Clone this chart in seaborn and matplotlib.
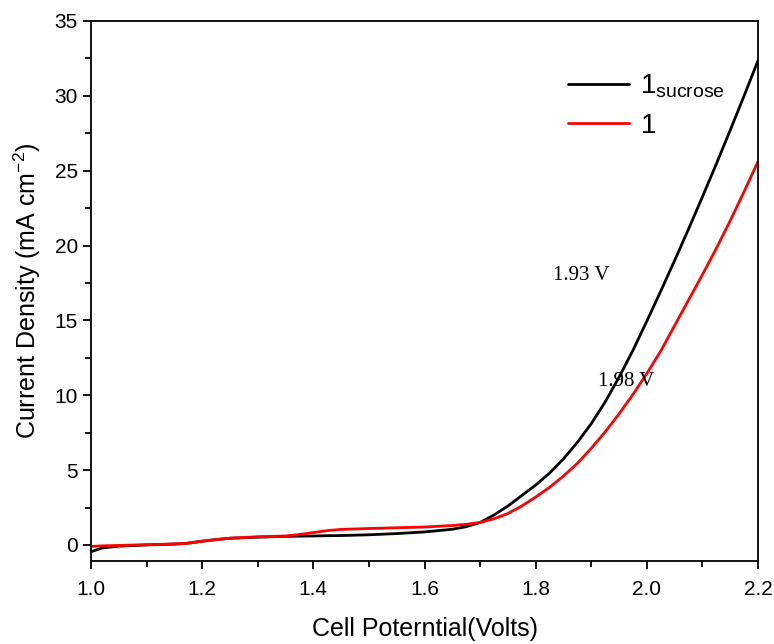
import pandas as pd
import seaborn as sns
import numpy as np
import matplotlib.pyplot as plt
from matplotlib.ticker import MultipleLocator

potential = [1.00, 1.02, 1.05, 1.10, 1.15, 1.17, 1.20, 1.225, 1.25, 1.30, 1.35, 1.375, 1.40,
             1.425, 1.45, 1.50, 1.55, 1.60, 1.65, 1.675, 1.70, 1.725, 1.75, 1.775, 1.80,
             1.825, 1.85, 1.875, 1.90, 1.925, 1.95, 1.975, 2.00, 2.025, 2.05, 2.075, 2.10,
             2.125, 2.15, 2.175, 2.20]
j_sucrose = [-0.45, -0.2, -0.08, 0.0, 0.06, 0.1, 0.25, 0.36, 0.45, 0.52, 0.57, 0.59, 0.6,
             0.62, 0.63, 0.68, 0.76, 0.87, 1.05, 1.22, 1.5, 2.0, 2.6, 3.3, 4.0,
             4.8, 5.75, 6.85, 8.1, 9.55, 11.2, 13.0, 14.95, 16.95, 19.0, 21.1, 23.25,
             25.45, 27.7, 30.0, 32.35]
j_plain = [-0.1, -0.06, -0.03, 0.02, 0.07, 0.1, 0.25, 0.36, 0.45, 0.55, 0.6, 0.7, 0.83,
           0.96, 1.04, 1.1, 1.15, 1.2, 1.3, 1.38, 1.5, 1.75, 2.1, 2.6, 3.2,
           3.85, 4.6, 5.45, 6.45, 7.55, 8.75, 10.05, 11.45, 12.95, 14.65, 16.35, 18.05,
           19.8, 21.65, 23.6, 25.6]
labels = ['1$_{\\mathregular{sucrose}}$', '1']
colors = ['black', 'red']

df = pd.concat([
    pd.DataFrame({'E': potential, 'J': j_sucrose, 'sample': labels[0]}),
    pd.DataFrame({'E': potential, 'J': j_plain, 'sample': labels[1]}),
])

sns.set_style('ticks')
plt.rcParams['font.family'] = ['Liberation Sans', 'DejaVu Sans']
plt.rcParams['mathtext.default'] = 'regular'
plt.rcParams['text.color'] = 'black'
plt.rcParams['axes.labelcolor'] = 'black'
plt.rcParams['xtick.color'] = 'black'
plt.rcParams['ytick.color'] = 'black'

fig = plt.figure(figsize=(7.74, 6.44), dpi=100)
ax = fig.add_axes([0.1176, 0.1289, 0.8617, 0.8385])

sns.lineplot(data=df, x='E', y='J', hue='sample', palette=colors, linewidth=2.0,
             sort=False, ax=ax)

ax.set_xlim(1.0, 2.2)
ax.set_ylim(-1.07, 35)
ax.xaxis.set_major_locator(MultipleLocator(0.2))
ax.xaxis.set_minor_locator(MultipleLocator(0.1))
ax.yaxis.set_major_locator(MultipleLocator(5))
ax.yaxis.set_minor_locator(MultipleLocator(2.5))
ax.xaxis.set_major_formatter(plt.FormatStrFormatter('%.1f'))
ax.tick_params(which='major', length=6, width=1.3, labelsize=15, direction='out')
ax.tick_params(axis='x', which='major', pad=8)
ax.tick_params(which='minor', length=4, width=1.3, direction='out')
for s in ax.spines.values():
    s.set_linewidth(1.3)
    s.set_color('black')

ax.set_xlabel('Cell Poterntial(Volts)', fontsize=18, labelpad=13)
ax.set_ylabel('Current Density (mA cm$^{-2}$)', fontsize=18, labelpad=8)

ax.text(1.831, 18.0, '1.93 V', family='Liberation Serif', fontsize=15, va='center')
ax.text(1.912, 10.95, '1.98 V', family='Liberation Serif', fontsize=15, va='center')

ax.legend(frameon=False, fontsize=20, handlelength=2.2, handletextpad=0.4,
          loc='upper left', bbox_to_anchor=(0.678, 0.95), labelspacing=0.45)

fig.savefig('out.png', dpi=100)
